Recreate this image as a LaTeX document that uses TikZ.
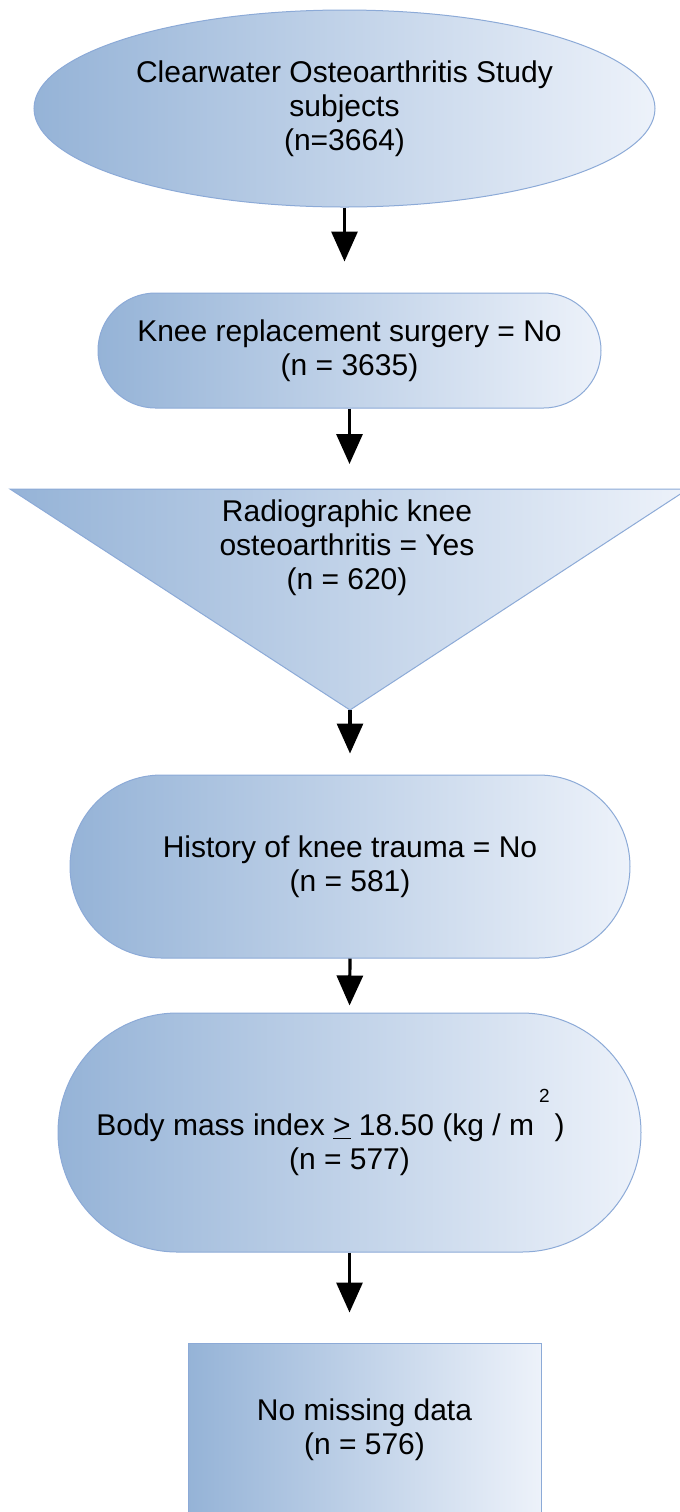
\documentclass[tikz,border=0pt]{standalone}
\usepackage{fontspec}
\setmainfont{Liberation Sans}
\usepackage{tikz}
\usetikzlibrary{arrows.meta,calc,positioning,shapes.geometric,shapes.misc}
\definecolor{boxleft}{RGB}{149,179,215}
\definecolor{boxright}{RGB}{237,242,250}
\definecolor{boxline}{RGB}{140,170,215}

\begin{document}
\begin{tikzpicture}[x=0.5pt,y=-0.5pt,
  box/.style={draw=boxline,line width=0.5pt,left color=boxleft,right color=boxright,
    inner sep=0pt,align=center,font=\fontsize{15}{17}\selectfont},
  stadium/.style={box,rounded rectangle},
  flow/.style={-{Triangle[width=13pt,length=15pt]},line width=1.6pt,black}]
\useasboundingbox (0,0) rectangle (680,1512);
\node[box,ellipse,minimum width=310.5pt,minimum height=98.5pt] (cos) at (344.5,108.5)
  {Clearwater Osteoarthritis Study\\subjects\\(n=3664)};
\node[stadium,minimum width=251.5pt,minimum height=57.5pt] (knee) at (349.5,350.5)
  {Knee replacement surgery = No\\(n = 3635)};
\shade[draw=boxline,line width=0.5pt,left color=boxleft,right color=boxright]
  (10,489) -- (688,489) -- (350,710) -- cycle;
\coordinate (rkoatop) at (350,489);
\coordinate (rkoatip) at (350,710);
\node[align=center,font=\fontsize{15}{17}\selectfont] (rkoa) at (347,548)
  {Radiographic knee\\osteoarthritis = Yes\\(n = 620)};
\node[stadium,minimum width=280pt,minimum height=91.5pt] (trauma) at (350,866.5)
  {History of knee trauma = No\\(n = 581)};
\node[stadium,minimum width=291.5pt,minimum height=119.5pt] (bmi) at (349.5,1132.5)
  {Body mass index \underline{>} 18.50 (kg / m\,\raisebox{16.5pt}{\fontsize{9.5}{9.5}\selectfont 2}\,)\hspace*{19pt}\\(n = 577)};
\node[box,rectangle,minimum width=176.5pt,minimum height=87pt] (nomiss) at (364.5,1430)
  {No missing data\\(n = 576)};
\draw[flow,shorten >=15.5pt] (cos.south) -- (cos.south |- knee.north);
\draw[flow,shorten >=12.5pt] (knee.south) -- (knee.south |- rkoatop);
\draw[flow,shorten >=10.5pt] (rkoatip) -- (trauma.north);
\draw[flow,shorten >=3.5pt] (trauma.south) -- (bmi.north);
\draw[flow,shorten >=15pt] (bmi.south) -- (bmi.south |- nomiss.north);
\end{tikzpicture}
\end{document}
